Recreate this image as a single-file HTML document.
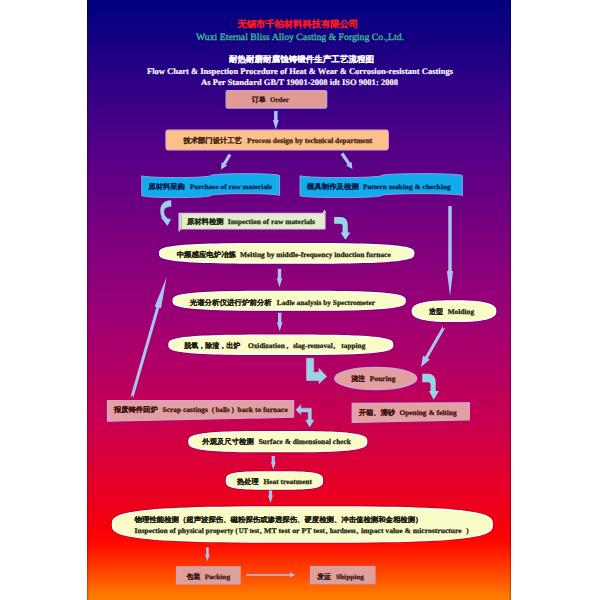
<!DOCTYPE html>
<html><head><meta charset="utf-8"><title>Flow Chart</title>
<style>
html,body{margin:0;padding:0;background:#fff;width:600px;height:600px;overflow:hidden;}
svg{display:block;font-family:"Liberation Serif",serif;text-rendering:geometricPrecision;}
</style></head><body>
<svg width="600" height="600" viewBox="0 0 600 600">
<defs><linearGradient id="bg" x1="0" y1="0" x2="0" y2="600" gradientUnits="userSpaceOnUse"><stop offset="0.0000" stop-color="#02007d"/><stop offset="0.0383" stop-color="#0c0080"/><stop offset="0.2050" stop-color="#460088"/><stop offset="0.3717" stop-color="#760080"/><stop offset="0.5383" stop-color="#a00074"/><stop offset="0.7050" stop-color="#c80050"/><stop offset="0.7883" stop-color="#e00030"/><stop offset="0.8383" stop-color="#ec001c"/><stop offset="0.8850" stop-color="#fa0006"/><stop offset="0.9083" stop-color="#ff0c00"/><stop offset="0.9217" stop-color="#ff1c00"/><stop offset="0.9383" stop-color="#ff3200"/><stop offset="0.9583" stop-color="#ff4b00"/><stop offset="0.9917" stop-color="#ff7800"/><stop offset="1.0000" stop-color="#ff7c00"/></linearGradient></defs>
<rect x="87" y="0" width="424" height="600" fill="url(#bg)"/>
<rect x="87" y="0" width="1.3" height="600" fill="#000" fill-opacity="0.22"/>
<rect x="509.7" y="0" width="1.3" height="600" fill="#000" fill-opacity="0.22"/>
<text x="237.5" y="27.4" textLength="120.5" lengthAdjust="spacingAndGlyphs" font-size="9.0" fill="#ff1818" font-weight="bold" stroke="#ff1818" stroke-width="0.08">无锡市千柏材料科技有限公司</text>
<text x="196" y="40.0" textLength="208.0" lengthAdjust="spacingAndGlyphs" font-size="9.6" fill="#3cb896" font-weight="normal" stroke="#3cb896" stroke-width="0.35">Wuxi Eternal Bliss Alloy Casting &amp; Forging Co.,Ltd.</text>
<text x="229" y="62.4" textLength="145.0" lengthAdjust="spacingAndGlyphs" font-size="8.5" fill="#ffffff" font-weight="bold" stroke="#ffffff" stroke-width="0.08">耐热耐磨耐腐蚀铸锻件生产工艺流程图</text>
<text x="147" y="74.0" textLength="306.0" lengthAdjust="spacingAndGlyphs" font-size="8.5" fill="#ffffff" font-weight="bold" stroke="#ffffff" stroke-width="0.15">Flow Chart &amp; Inspection Procedure of Heat &amp; Wear &amp; Corrosion-resistant Castings</text>
<text x="201" y="85.4" textLength="197.0" lengthAdjust="spacingAndGlyphs" font-size="8.5" fill="#ffffff" font-weight="bold" stroke="#ffffff" stroke-width="0.15">As Per Standard GB/T 19001-2008 idt ISO 9001: 2008</text>
<rect x="226.2" y="90.6" width="100.4" height="17.4" rx="1.5" fill="#e29a94" stroke="#c4a4d8" stroke-width="1.4"/>
<text x="251.7" y="101.9" textLength="13.9" lengthAdjust="spacingAndGlyphs" font-size="7.3" fill="#3a1818" font-weight="bold" stroke="#3a1818" stroke-width="0.08">订单</text><text x="270" y="101.9" textLength="18.8" lengthAdjust="spacingAndGlyphs" font-size="6.9" fill="#3a1818" font-weight="bold" stroke="#3a1818" stroke-width="0.25">Order</text>
<path d="M274.05,111 L277.55,111 L277.55,120.0 L278.7,120.0 L275.8,129.5 L272.90000000000003,120.0 L274.05,120.0 Z" fill="#a8c4f0"/>
<rect x="166" y="130.2" width="222.2" height="19.6" rx="2.5" fill="#fcc088" stroke="#dcb8d0" stroke-width="1.2"/>
<text x="183.5" y="142.7" textLength="58.3" lengthAdjust="spacingAndGlyphs" font-size="7.3" fill="#3a2010" font-weight="bold" stroke="#3a2010" stroke-width="0.08">技术部门设计工艺</text><text x="247.1" y="142.7" textLength="125.2" lengthAdjust="spacingAndGlyphs" font-size="7.4" fill="#3a2010" font-weight="bold" stroke="#3a2010" stroke-width="0.25">Process design by technical department</text>
<path d="M228.63,153.68 L222.97,163.10 L221.56,162.25 L221.00,169.50 L227.13,165.60 L225.72,164.75 L231.37,155.32 Z" fill="#a8c4f0"/>
<path d="M340.68,154.40 L347.53,164.52 L346.16,165.44 L352.50,169.00 L351.55,161.80 L350.18,162.72 L343.32,152.60 Z" fill="#a8c4f0"/>
<path d="M141.7,175.6 A34.475,2.0 0 0 0 210.64999999999998,175.6 A34.475,2.0 0 0 1 279.6,175.6 L279.6,195.6 A34.475,2.0 0 0 0 210.64999999999998,195.6 A34.475,2.0 0 0 1 141.7,195.6 Z" fill="#10acec" stroke="#a8a8e8" stroke-width="0.8"/>
<text x="148.5" y="188.6" textLength="36.2" lengthAdjust="spacingAndGlyphs" font-size="7.3" fill="#0a2050" font-weight="bold" stroke="#0a2050" stroke-width="0.08">原材料采购</text><text x="189.9" y="188.6" textLength="82.1" lengthAdjust="spacingAndGlyphs" font-size="6.8" fill="#0a2050" font-weight="bold" stroke="#0a2050" stroke-width="0.25">Purchase of raw materials</text>
<path d="M300,175.6 A40.6,2.0 0 0 0 381.2,175.6 A40.6,2.0 0 0 1 462.4,175.6 L462.4,195.6 A40.6,2.0 0 0 0 381.2,195.6 A40.6,2.0 0 0 1 300,195.6 Z" fill="#10acec" stroke="#a8a8e8" stroke-width="0.8"/>
<text x="306.9" y="188.9" textLength="51.9" lengthAdjust="spacingAndGlyphs" font-size="7.3" fill="#0a2050" font-weight="bold" stroke="#0a2050" stroke-width="0.08">模具制作及检测</text><text x="362.9" y="188.9" textLength="87.8" lengthAdjust="spacingAndGlyphs" font-size="6.8" fill="#0a2050" font-weight="bold" stroke="#0a2050" stroke-width="0.25">Pattern making &amp; checking</text>
<path d="M171,200.6 C165,200.4 160.6,204 160.6,210.5 C160.6,214 161.3,216 162.3,217.3 L161.3,217.6 L167.4,225.5 L170.6,219.6 L167.2,218.4 C165.2,216.8 163.8,214.5 163.8,211.5 C163.8,208.5 166.5,206.6 171,206.6 Z" fill="#98d4e8" stroke="#b8b0e8" stroke-width="0.6"/>
<path d="M179.4,213.4 L325,213.4 L325,229 L179.4,229 Z" fill="#e4ecce" stroke="#d0c8e8" stroke-width="1.2"/>
<path d="M181.3,214 L181.3,230.5" stroke="#90a890" stroke-width="0.8"/>
<path d="M179.3,213 L179.3,231.3" stroke="#c8c8f0" stroke-width="1.5"/>
<path d="M322.5,213 L324.5,209.5 L326.2,213 Z" fill="#d8d0e8"/>
<text x="186.9" y="224.1" textLength="36.8" lengthAdjust="spacingAndGlyphs" font-size="7.3" fill="#1a2a10" font-weight="bold" stroke="#1a2a10" stroke-width="0.08">原材料检测</text><text x="227.8" y="224.1" textLength="87.2" lengthAdjust="spacingAndGlyphs" font-size="7.2" fill="#1a2a10" font-weight="bold" stroke="#1a2a10" stroke-width="0.25">Inspection of raw materials</text>
<path d="M334.1,216.9 L340.5,216.9 Q347.8,216.9 347.8,225.5 L347.8,232.5 L350.4,232.5 L345.4,239.8 L340.6,232.5 L342.6,232.5 L342.6,226 Q342.6,223.7 340,223.7 L334.1,223.7 Z" fill="#98d4e8"/>
<path d="M448.3,206 L451.7,206 L451.7,271 L453.1,271 L450,296 L446.9,271 L448.3,271 Z" fill="#a8c4f0"/>
<path d="M414.70,253.35 L414.53,255.29 L414.01,256.33 L413.16,257.18 L411.96,257.93 L410.41,258.59 L408.52,259.19 L406.28,259.75 L403.69,260.26 L400.75,260.73 L397.46,261.16 L393.80,261.56 L389.77,261.93 L385.36,262.26 L380.56,262.57 L375.35,262.84 L369.70,263.08 L363.57,263.30 L356.92,263.49 L349.67,263.64 L341.70,263.77 L332.79,263.87 L322.55,263.94 L309.98,263.99 L286.70,264.00 L263.42,263.99 L250.85,263.94 L240.61,263.87 L231.70,263.77 L223.73,263.64 L216.48,263.49 L209.83,263.30 L203.70,263.08 L198.05,262.84 L192.84,262.57 L188.04,262.26 L183.63,261.93 L179.60,261.56 L175.94,261.16 L172.65,260.73 L169.71,260.26 L167.12,259.75 L164.88,259.19 L162.99,258.59 L161.44,257.93 L160.24,257.18 L159.39,256.33 L158.87,255.29 L158.70,253.35 L158.87,251.41 L159.39,250.37 L160.24,249.52 L161.44,248.77 L162.99,248.11 L164.88,247.51 L167.12,246.95 L169.71,246.44 L172.65,245.97 L175.94,245.54 L179.60,245.14 L183.63,244.77 L188.04,244.44 L192.84,244.13 L198.05,243.86 L203.70,243.62 L209.83,243.40 L216.48,243.21 L223.73,243.06 L231.70,242.93 L240.61,242.83 L250.85,242.76 L263.42,242.71 L286.70,242.70 L309.98,242.71 L322.55,242.76 L332.79,242.83 L341.70,242.93 L349.67,243.06 L356.92,243.21 L363.57,243.40 L369.70,243.62 L375.35,243.86 L380.56,244.13 L385.36,244.44 L389.77,244.77 L393.80,245.14 L397.46,245.54 L400.75,245.97 L403.69,246.44 L406.28,246.95 L408.52,247.51 L410.41,248.11 L411.96,248.77 L413.16,249.52 L414.01,250.37 L414.53,251.41 Z" fill="none" stroke="#3a0a50" stroke-opacity="0.35" stroke-width="1.2"/><path d="M413.80,253.35 L413.63,255.12 L413.12,256.08 L412.27,256.86 L411.08,257.54 L409.54,258.15 L407.66,258.70 L405.44,259.21 L402.87,259.67 L399.95,260.10 L396.68,260.50 L393.05,260.87 L389.05,261.20 L384.67,261.51 L379.90,261.79 L374.73,262.04 L369.11,262.26 L363.03,262.46 L356.43,262.63 L349.23,262.77 L341.31,262.89 L332.47,262.98 L322.30,263.05 L309.82,263.09 L286.70,263.10 L263.58,263.09 L251.10,263.05 L240.93,262.98 L232.09,262.89 L224.17,262.77 L216.97,262.63 L210.37,262.46 L204.29,262.26 L198.67,262.04 L193.50,261.79 L188.73,261.51 L184.35,261.20 L180.35,260.87 L176.72,260.50 L173.45,260.10 L170.53,259.67 L167.96,259.21 L165.74,258.70 L163.86,258.15 L162.32,257.54 L161.13,256.86 L160.28,256.08 L159.77,255.12 L159.60,253.35 L159.77,251.58 L160.28,250.62 L161.13,249.84 L162.32,249.16 L163.86,248.55 L165.74,248.00 L167.96,247.49 L170.53,247.03 L173.45,246.60 L176.72,246.20 L180.35,245.83 L184.35,245.50 L188.73,245.19 L193.50,244.91 L198.67,244.66 L204.29,244.44 L210.37,244.24 L216.97,244.07 L224.17,243.93 L232.09,243.81 L240.93,243.72 L251.10,243.65 L263.58,243.61 L286.70,243.60 L309.82,243.61 L322.30,243.65 L332.47,243.72 L341.31,243.81 L349.23,243.93 L356.43,244.07 L363.03,244.24 L369.11,244.44 L374.73,244.66 L379.90,244.91 L384.67,245.19 L389.05,245.50 L393.05,245.83 L396.68,246.20 L399.95,246.60 L402.87,247.03 L405.44,247.49 L407.66,248.00 L409.54,248.55 L411.08,249.16 L412.27,249.84 L413.12,250.62 L413.63,251.58 Z" fill="#fafcc8" stroke="#ffffff" stroke-width="1.3"/>
<text x="176.7" y="256.8" textLength="59.3" lengthAdjust="spacingAndGlyphs" font-size="7.3" fill="#1a1a10" font-weight="bold" stroke="#1a1a10" stroke-width="0.08">中频感应电炉冶炼</text><text x="240" y="256.8" textLength="150.7" lengthAdjust="spacingAndGlyphs" font-size="7.2" fill="#1a1a10" font-weight="bold" stroke="#1a1a10" stroke-width="0.25">Melting by middle-frequency induction furnace</text>
<path d="M277.8,268.7 L281.2,268.7 L281.2,278.3 L282.3,278.3 L279.5,287.3 L276.7,278.3 L277.8,278.3 Z" fill="#a8c4f0"/>
<path d="M406.10,300.80 L405.94,302.67 L405.47,303.69 L404.69,304.51 L403.59,305.23 L402.18,305.87 L400.45,306.45 L398.41,306.99 L396.04,307.48 L393.36,307.93 L390.35,308.35 L387.00,308.74 L383.32,309.09 L379.30,309.42 L374.91,309.71 L370.15,309.98 L364.98,310.21 L359.39,310.42 L353.31,310.60 L346.69,310.75 L339.40,310.88 L331.26,310.98 L321.91,311.04 L310.42,311.09 L289.15,311.10 L267.88,311.09 L256.39,311.04 L247.04,310.98 L238.90,310.88 L231.61,310.75 L224.99,310.60 L218.91,310.42 L213.32,310.21 L208.15,309.98 L203.39,309.71 L199.00,309.42 L194.98,309.09 L191.30,308.74 L187.95,308.35 L184.94,307.93 L182.26,307.48 L179.89,306.99 L177.85,306.45 L176.12,305.87 L174.71,305.23 L173.61,304.51 L172.83,303.69 L172.36,302.67 L172.20,300.80 L172.36,298.93 L172.83,297.91 L173.61,297.09 L174.71,296.37 L176.12,295.73 L177.85,295.15 L179.89,294.61 L182.26,294.12 L184.94,293.67 L187.95,293.25 L191.30,292.86 L194.98,292.51 L199.00,292.18 L203.39,291.89 L208.15,291.62 L213.32,291.39 L218.91,291.18 L224.99,291.00 L231.61,290.85 L238.90,290.72 L247.04,290.62 L256.39,290.56 L267.88,290.51 L289.15,290.50 L310.42,290.51 L321.91,290.56 L331.26,290.62 L339.40,290.72 L346.69,290.85 L353.31,291.00 L359.39,291.18 L364.98,291.39 L370.15,291.62 L374.91,291.89 L379.30,292.18 L383.32,292.51 L387.00,292.86 L390.35,293.25 L393.36,293.67 L396.04,294.12 L398.41,294.61 L400.45,295.15 L402.18,295.73 L403.59,296.37 L404.69,297.09 L405.47,297.91 L405.94,298.93 Z" fill="none" stroke="#3a0a50" stroke-opacity="0.35" stroke-width="1.2"/><path d="M405.20,300.80 L405.04,302.51 L404.58,303.43 L403.80,304.18 L402.71,304.84 L401.31,305.42 L399.60,305.96 L397.57,306.45 L395.22,306.90 L392.56,307.31 L389.57,307.69 L386.25,308.05 L382.60,308.37 L378.60,308.67 L374.25,308.93 L369.52,309.18 L364.40,309.39 L358.85,309.58 L352.82,309.75 L346.24,309.89 L339.01,310.00 L330.94,310.09 L321.66,310.15 L310.26,310.19 L289.15,310.20 L268.04,310.19 L256.64,310.15 L247.36,310.09 L239.29,310.00 L232.06,309.89 L225.48,309.75 L219.45,309.58 L213.90,309.39 L208.78,309.18 L204.05,308.93 L199.70,308.67 L195.70,308.37 L192.05,308.05 L188.73,307.69 L185.74,307.31 L183.08,306.90 L180.73,306.45 L178.70,305.96 L176.99,305.42 L175.59,304.84 L174.50,304.18 L173.72,303.43 L173.26,302.51 L173.10,300.80 L173.26,299.09 L173.72,298.17 L174.50,297.42 L175.59,296.76 L176.99,296.18 L178.70,295.64 L180.73,295.15 L183.08,294.70 L185.74,294.29 L188.73,293.91 L192.05,293.55 L195.70,293.23 L199.70,292.93 L204.05,292.67 L208.78,292.42 L213.90,292.21 L219.45,292.02 L225.48,291.85 L232.06,291.71 L239.29,291.60 L247.36,291.51 L256.64,291.45 L268.04,291.41 L289.15,291.40 L310.26,291.41 L321.66,291.45 L330.94,291.51 L339.01,291.60 L346.24,291.71 L352.82,291.85 L358.85,292.02 L364.40,292.21 L369.52,292.42 L374.25,292.67 L378.60,292.93 L382.60,293.23 L386.25,293.55 L389.57,293.91 L392.56,294.29 L395.22,294.70 L397.57,295.15 L399.60,295.64 L401.31,296.18 L402.71,296.76 L403.80,297.42 L404.58,298.17 L405.04,299.09 Z" fill="#fafcc8" stroke="#ffffff" stroke-width="1.3"/>
<text x="189.7" y="305.0" textLength="82.1" lengthAdjust="spacingAndGlyphs" font-size="7.3" fill="#1a1a10" font-weight="bold" stroke="#1a1a10" stroke-width="0.08">光谱分析仪进行炉前分析</text><text x="276.8" y="305.0" textLength="98.2" lengthAdjust="spacingAndGlyphs" font-size="7.2" fill="#1a1a10" font-weight="bold" stroke="#1a1a10" stroke-width="0.25">Ladle analysis by Spectrometer</text>
<path d="M278.0,312.7 L281.4,312.7 L281.4,322.3 L282.5,322.3 L279.7,331.3 L276.9,322.3 L278.0,322.3 Z" fill="#a8c4f0"/>
<path d="M496.60,311.15 L496.53,312.52 L496.32,313.48 L495.97,314.32 L495.48,315.09 L494.85,315.81 L494.08,316.48 L493.18,317.10 L492.14,317.69 L490.96,318.24 L489.65,318.76 L488.21,319.24 L486.63,319.69 L484.92,320.10 L483.08,320.48 L481.11,320.82 L478.99,321.13 L476.74,321.40 L474.35,321.64 L471.79,321.84 L469.06,322.01 L466.12,322.13 L462.90,322.23 L459.23,322.28 L454.00,322.30 L448.77,322.28 L445.10,322.23 L441.88,322.13 L438.94,322.01 L436.21,321.84 L433.65,321.64 L431.26,321.40 L429.01,321.13 L426.89,320.82 L424.92,320.48 L423.08,320.10 L421.37,319.69 L419.79,319.24 L418.35,318.76 L417.04,318.24 L415.86,317.69 L414.82,317.10 L413.92,316.48 L413.15,315.81 L412.52,315.09 L412.03,314.32 L411.68,313.48 L411.47,312.52 L411.40,311.15 L411.47,309.78 L411.68,308.82 L412.03,307.98 L412.52,307.21 L413.15,306.49 L413.92,305.82 L414.82,305.20 L415.86,304.61 L417.04,304.06 L418.35,303.54 L419.79,303.06 L421.37,302.61 L423.08,302.20 L424.92,301.82 L426.89,301.48 L429.01,301.17 L431.26,300.90 L433.65,300.66 L436.21,300.46 L438.94,300.29 L441.88,300.17 L445.10,300.07 L448.77,300.02 L454.00,300.00 L459.23,300.02 L462.90,300.07 L466.12,300.17 L469.06,300.29 L471.79,300.46 L474.35,300.66 L476.74,300.90 L478.99,301.17 L481.11,301.48 L483.08,301.82 L484.92,302.20 L486.63,302.61 L488.21,303.06 L489.65,303.54 L490.96,304.06 L492.14,304.61 L493.18,305.20 L494.08,305.82 L494.85,306.49 L495.48,307.21 L495.97,307.98 L496.32,308.82 L496.53,309.78 Z" fill="none" stroke="#3a0a50" stroke-opacity="0.35" stroke-width="1.2"/><path d="M495.70,311.15 L495.63,312.41 L495.43,313.29 L495.08,314.07 L494.60,314.77 L493.99,315.43 L493.24,316.05 L492.35,316.62 L491.33,317.16 L490.18,317.67 L488.90,318.15 L487.48,318.59 L485.94,319.00 L484.27,319.38 L482.47,319.73 L480.53,320.04 L478.47,320.33 L476.26,320.58 L473.92,320.79 L471.42,320.98 L468.74,321.13 L465.86,321.25 L462.71,321.33 L459.12,321.38 L454.00,321.40 L448.88,321.38 L445.29,321.33 L442.14,321.25 L439.26,321.13 L436.58,320.98 L434.08,320.79 L431.74,320.58 L429.53,320.33 L427.47,320.04 L425.53,319.73 L423.73,319.38 L422.06,319.00 L420.52,318.59 L419.10,318.15 L417.82,317.67 L416.67,317.16 L415.65,316.62 L414.76,316.05 L414.01,315.43 L413.40,314.77 L412.92,314.07 L412.57,313.29 L412.37,312.41 L412.30,311.15 L412.37,309.89 L412.57,309.01 L412.92,308.23 L413.40,307.53 L414.01,306.87 L414.76,306.25 L415.65,305.68 L416.67,305.14 L417.82,304.63 L419.10,304.15 L420.52,303.71 L422.06,303.30 L423.73,302.92 L425.53,302.57 L427.47,302.26 L429.53,301.97 L431.74,301.72 L434.08,301.51 L436.58,301.32 L439.26,301.17 L442.14,301.05 L445.29,300.97 L448.88,300.92 L454.00,300.90 L459.12,300.92 L462.71,300.97 L465.86,301.05 L468.74,301.17 L471.42,301.32 L473.92,301.51 L476.26,301.72 L478.47,301.97 L480.53,302.26 L482.47,302.57 L484.27,302.92 L485.94,303.30 L487.48,303.71 L488.90,304.15 L490.18,304.63 L491.33,305.14 L492.35,305.68 L493.24,306.25 L493.99,306.87 L494.60,307.53 L495.08,308.23 L495.43,309.01 L495.63,309.89 Z" fill="#fafcc8" stroke="#ffffff" stroke-width="1.3"/>
<text x="428.9" y="314.0" textLength="14.0" lengthAdjust="spacingAndGlyphs" font-size="7.3" fill="#1a1a10" font-weight="bold" stroke="#1a1a10" stroke-width="0.08">造型</text><text x="447.7" y="314.0" textLength="26.4" lengthAdjust="spacingAndGlyphs" font-size="7.2" fill="#1a1a10" font-weight="bold" stroke="#1a1a10" stroke-width="0.25">Molding</text>
<path d="M393.60,344.80 L393.45,346.71 L393.00,347.74 L392.24,348.58 L391.18,349.31 L389.82,349.97 L388.15,350.56 L386.18,351.11 L383.90,351.61 L381.31,352.07 L378.41,352.50 L375.18,352.89 L371.63,353.26 L367.75,353.59 L363.52,353.89 L358.92,354.16 L353.94,354.40 L348.54,354.61 L342.68,354.79 L336.29,354.95 L329.27,355.07 L321.42,355.17 L312.40,355.24 L301.31,355.29 L280.80,355.30 L260.29,355.29 L249.20,355.24 L240.18,355.17 L232.33,355.07 L225.31,354.95 L218.92,354.79 L213.06,354.61 L207.66,354.40 L202.68,354.16 L198.08,353.89 L193.85,353.59 L189.97,353.26 L186.42,352.89 L183.19,352.50 L180.29,352.07 L177.70,351.61 L175.42,351.11 L173.45,350.56 L171.78,349.97 L170.42,349.31 L169.36,348.58 L168.60,347.74 L168.15,346.71 L168.00,344.80 L168.15,342.89 L168.60,341.86 L169.36,341.02 L170.42,340.29 L171.78,339.63 L173.45,339.04 L175.42,338.49 L177.70,337.99 L180.29,337.53 L183.19,337.10 L186.42,336.71 L189.97,336.34 L193.85,336.01 L198.08,335.71 L202.68,335.44 L207.66,335.20 L213.06,334.99 L218.92,334.81 L225.31,334.65 L232.33,334.53 L240.18,334.43 L249.20,334.36 L260.29,334.31 L280.80,334.30 L301.31,334.31 L312.40,334.36 L321.42,334.43 L329.27,334.53 L336.29,334.65 L342.68,334.81 L348.54,334.99 L353.94,335.20 L358.92,335.44 L363.52,335.71 L367.75,336.01 L371.63,336.34 L375.18,336.71 L378.41,337.10 L381.31,337.53 L383.90,337.99 L386.18,338.49 L388.15,339.04 L389.82,339.63 L391.18,340.29 L392.24,341.02 L393.00,341.86 L393.45,342.89 Z" fill="none" stroke="#3a0a50" stroke-opacity="0.35" stroke-width="1.2"/><path d="M392.70,344.80 L392.55,346.55 L392.10,347.49 L391.35,348.26 L390.30,348.92 L388.95,349.52 L387.30,350.07 L385.34,350.57 L383.08,351.02 L380.51,351.45 L377.63,351.84 L374.43,352.20 L370.91,352.53 L367.05,352.83 L362.86,353.11 L358.30,353.35 L353.36,353.57 L348.00,353.77 L342.19,353.94 L335.85,354.08 L328.88,354.19 L321.09,354.28 L312.14,354.35 L301.15,354.39 L280.80,354.40 L260.45,354.39 L249.46,354.35 L240.51,354.28 L232.72,354.19 L225.75,354.08 L219.41,353.94 L213.60,353.77 L208.24,353.57 L203.30,353.35 L198.74,353.11 L194.55,352.83 L190.69,352.53 L187.17,352.20 L183.97,351.84 L181.09,351.45 L178.52,351.02 L176.26,350.57 L174.30,350.07 L172.65,349.52 L171.30,348.92 L170.25,348.26 L169.50,347.49 L169.05,346.55 L168.90,344.80 L169.05,343.05 L169.50,342.11 L170.25,341.34 L171.30,340.68 L172.65,340.08 L174.30,339.53 L176.26,339.03 L178.52,338.58 L181.09,338.15 L183.97,337.76 L187.17,337.40 L190.69,337.07 L194.55,336.77 L198.74,336.49 L203.30,336.25 L208.24,336.03 L213.60,335.83 L219.41,335.66 L225.75,335.52 L232.72,335.41 L240.51,335.32 L249.46,335.25 L260.45,335.21 L280.80,335.20 L301.15,335.21 L312.14,335.25 L321.09,335.32 L328.88,335.41 L335.85,335.52 L342.19,335.66 L348.00,335.83 L353.36,336.03 L358.30,336.25 L362.86,336.49 L367.05,336.77 L370.91,337.07 L374.43,337.40 L377.63,337.76 L380.51,338.15 L383.08,338.58 L385.34,339.03 L387.30,339.53 L388.95,340.08 L390.30,340.68 L391.35,341.34 L392.10,342.11 L392.55,343.05 Z" fill="#fafcc8" stroke="#ffffff" stroke-width="1.3"/>
<text x="184.3" y="347.8" textLength="56.0" lengthAdjust="spacingAndGlyphs" font-size="7.3" fill="#1a1a10" font-weight="bold" stroke="#1a1a10" stroke-width="0.08">脱氧，除渣，出炉</text>
<text y="347.8" font-size="7.2" fill="#1a1a10" font-weight="bold" stroke="#1a1a10" stroke-width="0.25"><tspan x="247.9" textLength="37.0" lengthAdjust="spacingAndGlyphs">Oxidization</tspan><tspan x="286.6">,</tspan><tspan x="292.9" textLength="39.8" lengthAdjust="spacingAndGlyphs">slag-removal</tspan><tspan x="333.4">,</tspan><tspan x="341.3" textLength="24.0" lengthAdjust="spacingAndGlyphs">tapping</tspan></text>
<path d="M306.6,358.3 L313.6,358.3 L313.6,372.3 L319,372.3 L319,368.5 L326.6,376.4 L319,383.6 L319,380.5 L306.6,380.5 Z" fill="#98d4e8" stroke="#b8b0e0" stroke-width="0.8"/>
<ellipse cx="375.75" cy="378.45" rx="41" ry="11" fill="#e4a0a0" stroke="#c8a8e0" stroke-width="1.4"/>
<text x="351.3" y="380.5" textLength="13.7" lengthAdjust="spacingAndGlyphs" font-size="7.3" fill="#3a1010" font-weight="bold" stroke="#3a1010" stroke-width="0.08">浇注</text><text x="369.7" y="380.5" textLength="25.7" lengthAdjust="spacingAndGlyphs" font-size="7.2" fill="#3a1010" font-weight="bold" stroke="#3a1010" stroke-width="0.25">Pouring</text>
<path d="M442.70,326.25 L425.18,356.72 L423.02,355.47 L421.00,367.00 L429.95,359.46 L427.78,358.21 L445.30,327.75 L443.00,328.73 Z" fill="#a8c4f0"/>
<path d="M422.3,373.7 L428,373.7 Q435.7,373.7 435.7,382.5 L435.7,391 L439,391 L433.7,399.7 L429,391 L430.6,391 L430.6,384.5 Q430.6,382.3 428,382.3 L422.3,382.3 Z" fill="#98d4e8"/>
<path d="M133.14,398.42 L159.27,307.86 L161.00,308.36 L166.70,276.70 L154.66,306.53 L156.39,307.03 L130.26,397.58 L132.53,395.12 Z" fill="#a8c4f0"/>
<path d="M107.5,400.5 L293.6,400.5 L293.6,417.2 L107.5,421.2 Z" fill="#e4a0a0" stroke="#c8a8e0" stroke-width="1.2"/>
<text x="113.9" y="412.2" textLength="43.8" lengthAdjust="spacingAndGlyphs" font-size="7.3" fill="#3a1010" font-weight="bold" stroke="#3a1010" stroke-width="0.08">报废铸件回炉</text>
<text y="412.2" font-size="7.2" fill="#3a1010" font-weight="bold" stroke="#3a1010" stroke-width="0.25"><tspan x="162.6" textLength="45.3" lengthAdjust="spacingAndGlyphs">Scrap castings</tspan><tspan x="211.8">(</tspan><tspan x="215.4" textLength="14.2" lengthAdjust="spacingAndGlyphs">balls</tspan><tspan x="231.6">)</tspan><tspan x="237.5" textLength="50.3" lengthAdjust="spacingAndGlyphs">back to furnace</tspan></text>
<path d="M352.2,403.3 L469.3,402.8 L469.3,419.8 L352.2,422.4 Z" fill="#e4a0a0" stroke="#c8a8e0" stroke-width="1.2"/>
<text x="358.8" y="415.1" textLength="36.3" lengthAdjust="spacingAndGlyphs" font-size="7.3" fill="#3a1010" font-weight="bold" stroke="#3a1010" stroke-width="0.08">开箱、清砂</text><text x="399.4" y="415.1" textLength="57.2" lengthAdjust="spacingAndGlyphs" font-size="7.2" fill="#3a1010" font-weight="bold" stroke="#3a1010" stroke-width="0.25">Opening &amp; felting</text>
<path d="M295.9,409.7 L300.8,404.8 L300.8,408.2 L311.3,408.2 L311.3,420 L313.8,420 L309.7,427 L305.7,420 L308.2,420 L308.2,411.9 L300.8,411.9 L300.8,414.7 Z" fill="#98d4e8" stroke="#b8b0e0" stroke-width="0.6"/>
<path d="M367.60,441.65 L367.48,443.64 L367.12,444.72 L366.52,445.59 L365.68,446.35 L364.59,447.04 L363.26,447.66 L361.69,448.23 L359.88,448.75 L357.82,449.23 L355.50,449.68 L352.94,450.09 L350.11,450.47 L347.02,450.81 L343.65,451.13 L339.99,451.41 L336.03,451.66 L331.73,451.88 L327.07,452.07 L321.98,452.23 L316.38,452.37 L310.14,452.47 L302.95,452.54 L294.13,452.59 L277.80,452.60 L261.47,452.59 L252.65,452.54 L245.46,452.47 L239.22,452.37 L233.62,452.23 L228.53,452.07 L223.87,451.88 L219.57,451.66 L215.61,451.41 L211.95,451.13 L208.58,450.81 L205.49,450.47 L202.66,450.09 L200.10,449.68 L197.78,449.23 L195.72,448.75 L193.91,448.23 L192.34,447.66 L191.01,447.04 L189.92,446.35 L189.08,445.59 L188.48,444.72 L188.12,443.64 L188.00,441.65 L188.12,439.66 L188.48,438.58 L189.08,437.71 L189.92,436.95 L191.01,436.26 L192.34,435.64 L193.91,435.07 L195.72,434.55 L197.78,434.07 L200.10,433.62 L202.66,433.21 L205.49,432.83 L208.58,432.49 L211.95,432.17 L215.61,431.89 L219.57,431.64 L223.87,431.42 L228.53,431.23 L233.62,431.07 L239.22,430.93 L245.46,430.83 L252.65,430.76 L261.47,430.71 L277.80,430.70 L294.13,430.71 L302.95,430.76 L310.14,430.83 L316.38,430.93 L321.98,431.07 L327.07,431.23 L331.73,431.42 L336.03,431.64 L339.99,431.89 L343.65,432.17 L347.02,432.49 L350.11,432.83 L352.94,433.21 L355.50,433.62 L357.82,434.07 L359.88,434.55 L361.69,435.07 L363.26,435.64 L364.59,436.26 L365.68,436.95 L366.52,437.71 L367.12,438.58 L367.48,439.66 Z" fill="none" stroke="#3a0a50" stroke-opacity="0.35" stroke-width="1.2"/><path d="M366.70,441.65 L366.58,443.48 L366.22,444.46 L365.63,445.27 L364.79,445.97 L363.72,446.59 L362.41,447.16 L360.85,447.69 L359.06,448.17 L357.01,448.61 L354.73,449.02 L352.18,449.40 L349.39,449.74 L346.32,450.06 L342.99,450.35 L339.37,450.61 L335.44,450.84 L331.19,451.04 L326.57,451.21 L321.54,451.36 L316.00,451.48 L309.81,451.58 L302.70,451.65 L293.97,451.69 L277.80,451.70 L261.63,451.69 L252.90,451.65 L245.79,451.58 L239.60,451.48 L234.06,451.36 L229.03,451.21 L224.41,451.04 L220.16,450.84 L216.23,450.61 L212.61,450.35 L209.28,450.06 L206.21,449.74 L203.42,449.40 L200.87,449.02 L198.59,448.61 L196.54,448.17 L194.75,447.69 L193.19,447.16 L191.88,446.59 L190.81,445.97 L189.97,445.27 L189.38,444.46 L189.02,443.48 L188.90,441.65 L189.02,439.82 L189.38,438.84 L189.97,438.03 L190.81,437.33 L191.88,436.71 L193.19,436.14 L194.75,435.61 L196.54,435.13 L198.59,434.69 L200.87,434.28 L203.42,433.90 L206.21,433.56 L209.28,433.24 L212.61,432.95 L216.23,432.69 L220.16,432.46 L224.41,432.26 L229.03,432.09 L234.06,431.94 L239.60,431.82 L245.79,431.72 L252.90,431.65 L261.63,431.61 L277.80,431.60 L293.97,431.61 L302.70,431.65 L309.81,431.72 L316.00,431.82 L321.54,431.94 L326.57,432.09 L331.19,432.26 L335.44,432.46 L339.37,432.69 L342.99,432.95 L346.32,433.24 L349.39,433.56 L352.18,433.90 L354.73,434.28 L357.01,434.69 L359.06,435.13 L360.85,435.61 L362.41,436.14 L363.72,436.71 L364.79,437.33 L365.63,438.03 L366.22,438.84 L366.58,439.82 Z" fill="#fafcc8" stroke="#ffffff" stroke-width="1.3"/>
<text x="202.3" y="444.3" textLength="51.5" lengthAdjust="spacingAndGlyphs" font-size="7.3" fill="#1a1a10" font-weight="bold" stroke="#1a1a10" stroke-width="0.08">外观及尺寸检测</text><text x="258.5" y="444.3" textLength="92.5" lengthAdjust="spacingAndGlyphs" font-size="7.4" fill="#1a1a10" font-weight="bold" stroke="#1a1a10" stroke-width="0.25">Surface &amp; dimensional check</text>
<path d="M271.7,456 L274.90000000000003,456 L274.90000000000003,462.0 L275.7,462.0 L273.3,469.5 L270.90000000000003,462.0 L271.7,462.0 Z" fill="#a8c4f0"/>
<path d="M323.30,480.50 L323.24,482.59 L323.07,483.57 L322.78,484.33 L322.37,484.98 L321.84,485.56 L321.20,486.07 L320.43,486.54 L319.54,486.96 L318.53,487.35 L317.40,487.71 L316.13,488.04 L314.74,488.34 L313.20,488.61 L311.52,488.85 L309.68,489.07 L307.67,489.27 L305.48,489.44 L303.08,489.59 L300.43,489.72 L297.48,489.82 L294.12,489.90 L290.18,489.95 L285.15,489.99 L274.40,490.00 L263.65,489.99 L258.62,489.95 L254.68,489.90 L251.32,489.82 L248.37,489.72 L245.72,489.59 L243.32,489.44 L241.13,489.27 L239.12,489.07 L237.28,488.85 L235.60,488.61 L234.06,488.34 L232.67,488.04 L231.40,487.71 L230.27,487.35 L229.26,486.96 L228.37,486.54 L227.60,486.07 L226.96,485.56 L226.43,484.98 L226.02,484.33 L225.73,483.57 L225.56,482.59 L225.50,480.50 L225.56,478.41 L225.73,477.43 L226.02,476.67 L226.43,476.02 L226.96,475.44 L227.60,474.93 L228.37,474.46 L229.26,474.04 L230.27,473.65 L231.40,473.29 L232.67,472.96 L234.06,472.66 L235.60,472.39 L237.28,472.15 L239.12,471.93 L241.13,471.73 L243.32,471.56 L245.72,471.41 L248.37,471.28 L251.32,471.18 L254.68,471.10 L258.62,471.05 L263.65,471.01 L274.40,471.00 L285.15,471.01 L290.18,471.05 L294.12,471.10 L297.48,471.18 L300.43,471.28 L303.08,471.41 L305.48,471.56 L307.67,471.73 L309.68,471.93 L311.52,472.15 L313.20,472.39 L314.74,472.66 L316.13,472.96 L317.40,473.29 L318.53,473.65 L319.54,474.04 L320.43,474.46 L321.20,474.93 L321.84,475.44 L322.37,476.02 L322.78,476.67 L323.07,477.43 L323.24,478.41 Z" fill="none" stroke="#3a0a50" stroke-opacity="0.35" stroke-width="1.2"/><path d="M322.40,480.50 L322.34,482.39 L322.17,483.27 L321.89,483.97 L321.48,484.56 L320.97,485.08 L320.33,485.54 L319.58,485.97 L318.71,486.35 L317.72,486.70 L316.61,487.03 L315.37,487.32 L313.99,487.59 L312.48,487.84 L310.83,488.06 L309.03,488.26 L307.06,488.44 L304.91,488.60 L302.55,488.73 L299.95,488.84 L297.05,488.94 L293.76,489.01 L289.89,489.06 L284.95,489.09 L274.40,489.10 L263.85,489.09 L258.91,489.06 L255.04,489.01 L251.75,488.94 L248.85,488.84 L246.25,488.73 L243.89,488.60 L241.74,488.44 L239.77,488.26 L237.97,488.06 L236.32,487.84 L234.81,487.59 L233.43,487.32 L232.19,487.03 L231.08,486.70 L230.09,486.35 L229.22,485.97 L228.47,485.54 L227.83,485.08 L227.32,484.56 L226.91,483.97 L226.63,483.27 L226.46,482.39 L226.40,480.50 L226.46,478.61 L226.63,477.73 L226.91,477.03 L227.32,476.44 L227.83,475.92 L228.47,475.46 L229.22,475.03 L230.09,474.65 L231.08,474.30 L232.19,473.97 L233.43,473.68 L234.81,473.41 L236.32,473.16 L237.97,472.94 L239.77,472.74 L241.74,472.56 L243.89,472.40 L246.25,472.27 L248.85,472.16 L251.75,472.06 L255.04,471.99 L258.91,471.94 L263.85,471.91 L274.40,471.90 L284.95,471.91 L289.89,471.94 L293.76,471.99 L297.05,472.06 L299.95,472.16 L302.55,472.27 L304.91,472.40 L307.06,472.56 L309.03,472.74 L310.83,472.94 L312.48,473.16 L313.99,473.41 L315.37,473.68 L316.61,473.97 L317.72,474.30 L318.71,474.65 L319.58,475.03 L320.33,475.46 L320.97,475.92 L321.48,476.44 L321.89,477.03 L322.17,477.73 L322.34,478.61 Z" fill="#fafcc8" stroke="#ffffff" stroke-width="1.3"/>
<text x="237" y="484.4" textLength="21.6" lengthAdjust="spacingAndGlyphs" font-size="7.3" fill="#1a1a10" font-weight="bold" stroke="#1a1a10" stroke-width="0.08">热处理</text><text x="263.4" y="484.4" textLength="48.5" lengthAdjust="spacingAndGlyphs" font-size="7.2" fill="#1a1a10" font-weight="bold" stroke="#1a1a10" stroke-width="0.25">Heat treatment</text>
<path d="M268.9,490.5 L272.1,490.5 L272.1,495.5 L272.9,495.5 L270.5,503 L268.1,495.5 L268.9,495.5 Z" fill="#a8c4f0"/>
<path d="M493.20,524.50 L492.94,527.86 L492.18,529.68 L490.90,531.16 L489.11,532.45 L486.81,533.60 L483.99,534.65 L480.65,535.61 L476.79,536.50 L472.41,537.31 L467.49,538.07 L462.04,538.76 L456.03,539.40 L449.46,539.98 L442.30,540.51 L434.53,540.98 L426.10,541.41 L416.97,541.78 L407.05,542.11 L396.24,542.38 L384.35,542.60 L371.07,542.78 L355.81,542.90 L337.06,542.98 L302.35,543.00 L267.64,542.98 L248.89,542.90 L233.63,542.78 L220.35,542.60 L208.46,542.38 L197.65,542.11 L187.73,541.78 L178.60,541.41 L170.17,540.98 L162.40,540.51 L155.24,539.98 L148.67,539.40 L142.66,538.76 L137.21,538.07 L132.29,537.31 L127.91,536.50 L124.05,535.61 L120.71,534.65 L117.89,533.60 L115.59,532.45 L113.80,531.16 L112.52,529.68 L111.76,527.86 L111.50,524.50 L111.76,521.14 L112.52,519.32 L113.80,517.84 L115.59,516.55 L117.89,515.40 L120.71,514.35 L124.05,513.39 L127.91,512.50 L132.29,511.69 L137.21,510.93 L142.66,510.24 L148.67,509.60 L155.24,509.02 L162.40,508.49 L170.17,508.02 L178.60,507.59 L187.73,507.22 L197.65,506.89 L208.46,506.62 L220.35,506.40 L233.63,506.22 L248.89,506.10 L267.64,506.02 L302.35,506.00 L337.06,506.02 L355.81,506.10 L371.07,506.22 L384.35,506.40 L396.24,506.62 L407.05,506.89 L416.97,507.22 L426.10,507.59 L434.53,508.02 L442.30,508.49 L449.46,509.02 L456.03,509.60 L462.04,510.24 L467.49,510.93 L472.41,511.69 L476.79,512.50 L480.65,513.39 L483.99,514.35 L486.81,515.40 L489.11,516.55 L490.90,517.84 L492.18,519.32 L492.94,521.14 Z" fill="none" stroke="#3a0a50" stroke-opacity="0.35" stroke-width="1.2"/><path d="M492.30,524.50 L492.05,527.70 L491.28,529.43 L490.01,530.84 L488.23,532.06 L485.94,533.16 L483.13,534.16 L479.81,535.07 L475.97,535.91 L471.61,536.69 L466.71,537.41 L461.28,538.07 L455.31,538.67 L448.76,539.23 L441.64,539.73 L433.90,540.18 L425.52,540.59 L416.43,540.94 L406.56,541.25 L395.80,541.51 L383.96,541.72 L370.75,541.89 L355.55,542.01 L336.90,542.08 L302.35,542.10 L267.80,542.08 L249.15,542.01 L233.95,541.89 L220.74,541.72 L208.90,541.51 L198.14,541.25 L188.27,540.94 L179.18,540.59 L170.80,540.18 L163.06,539.73 L155.94,539.23 L149.39,538.67 L143.42,538.07 L137.99,537.41 L133.09,536.69 L128.73,535.91 L124.89,535.07 L121.57,534.16 L118.76,533.16 L116.47,532.06 L114.69,530.84 L113.42,529.43 L112.65,527.70 L112.40,524.50 L112.65,521.30 L113.42,519.57 L114.69,518.16 L116.47,516.94 L118.76,515.84 L121.57,514.84 L124.89,513.93 L128.73,513.09 L133.09,512.31 L137.99,511.59 L143.42,510.93 L149.39,510.33 L155.94,509.77 L163.06,509.27 L170.80,508.82 L179.18,508.41 L188.27,508.06 L198.14,507.75 L208.90,507.49 L220.74,507.28 L233.95,507.11 L249.15,506.99 L267.80,506.92 L302.35,506.90 L336.90,506.92 L355.55,506.99 L370.75,507.11 L383.96,507.28 L395.80,507.49 L406.56,507.75 L416.43,508.06 L425.52,508.41 L433.90,508.82 L441.64,509.27 L448.76,509.77 L455.31,510.33 L461.28,510.93 L466.71,511.59 L471.61,512.31 L475.97,513.09 L479.81,513.93 L483.13,514.84 L485.94,515.84 L488.23,516.94 L490.01,518.16 L491.28,519.57 L492.05,521.30 Z" fill="#fafcc8" stroke="#ffffff" stroke-width="1.3"/>
<text x="134.7" y="522.0" textLength="287.8" lengthAdjust="spacingAndGlyphs" font-size="7.2" fill="#1a1a10" font-weight="bold" stroke="#1a1a10" stroke-width="0.08">物理性能检测（超声波探伤、磁粉探伤或渗透探伤、硬度检测、冲击值检测和金相检测）</text>
<text y="533.0" font-size="7.2" fill="#1a1a10" font-weight="bold" stroke="#1a1a10" stroke-width="0.25"><tspan x="134.6" textLength="99.0" lengthAdjust="spacingAndGlyphs">Inspection of physical property</tspan><tspan x="235.3">(</tspan><tspan x="238.7" textLength="20.6" lengthAdjust="spacingAndGlyphs">UT test</tspan><tspan x="260.0">,</tspan><tspan x="264" textLength="61.0" lengthAdjust="spacingAndGlyphs">MT test or PT test</tspan><tspan x="325.8">,</tspan><tspan x="329.8" textLength="25.9" lengthAdjust="spacingAndGlyphs">hardness</tspan><tspan x="356.6">,</tspan><tspan x="361" textLength="100.7" lengthAdjust="spacingAndGlyphs">impact value &amp; microstructure</tspan><tspan x="466.3">)</tspan></text>
<path d="M206.1,547.3 L208.70000000000002,547.3 L208.70000000000002,554.8 L209.70000000000002,554.8 L207.4,561.3 L205.1,554.8 L206.1,554.8 Z" fill="#a8c4f0"/>
<rect x="176.5" y="566.8" width="63.6" height="17.2" fill="#e0a098" stroke="#c8a0c0" stroke-width="1.2"/>
<text x="186.5" y="578.9" textLength="13.8" lengthAdjust="spacingAndGlyphs" font-size="7.3" fill="#3a1818" font-weight="bold" stroke="#3a1818" stroke-width="0.08">包装</text><text x="204.7" y="578.9" textLength="25.5" lengthAdjust="spacingAndGlyphs" font-size="6.7" fill="#3a1818" font-weight="bold" stroke="#3a1818" stroke-width="0.25">Packing</text>
<path d="M246.3,574.3 L290,574.3 L290,572.6 L295,575 L290,577.4 L290,575.8 L246.3,575.8 Z" fill="#a8c4f0"/>
<rect x="310.5" y="566.5" width="64.5" height="17.2" fill="#e0a098" stroke="#c8a0c0" stroke-width="1.2"/>
<text x="317.2" y="578.9" textLength="13.5" lengthAdjust="spacingAndGlyphs" font-size="7.3" fill="#3a1818" font-weight="bold" stroke="#3a1818" stroke-width="0.08">发运</text><text x="336" y="578.9" textLength="28.0" lengthAdjust="spacingAndGlyphs" font-size="6.7" fill="#3a1818" font-weight="bold" stroke="#3a1818" stroke-width="0.25">Shipping</text>
</svg>
</body></html>
